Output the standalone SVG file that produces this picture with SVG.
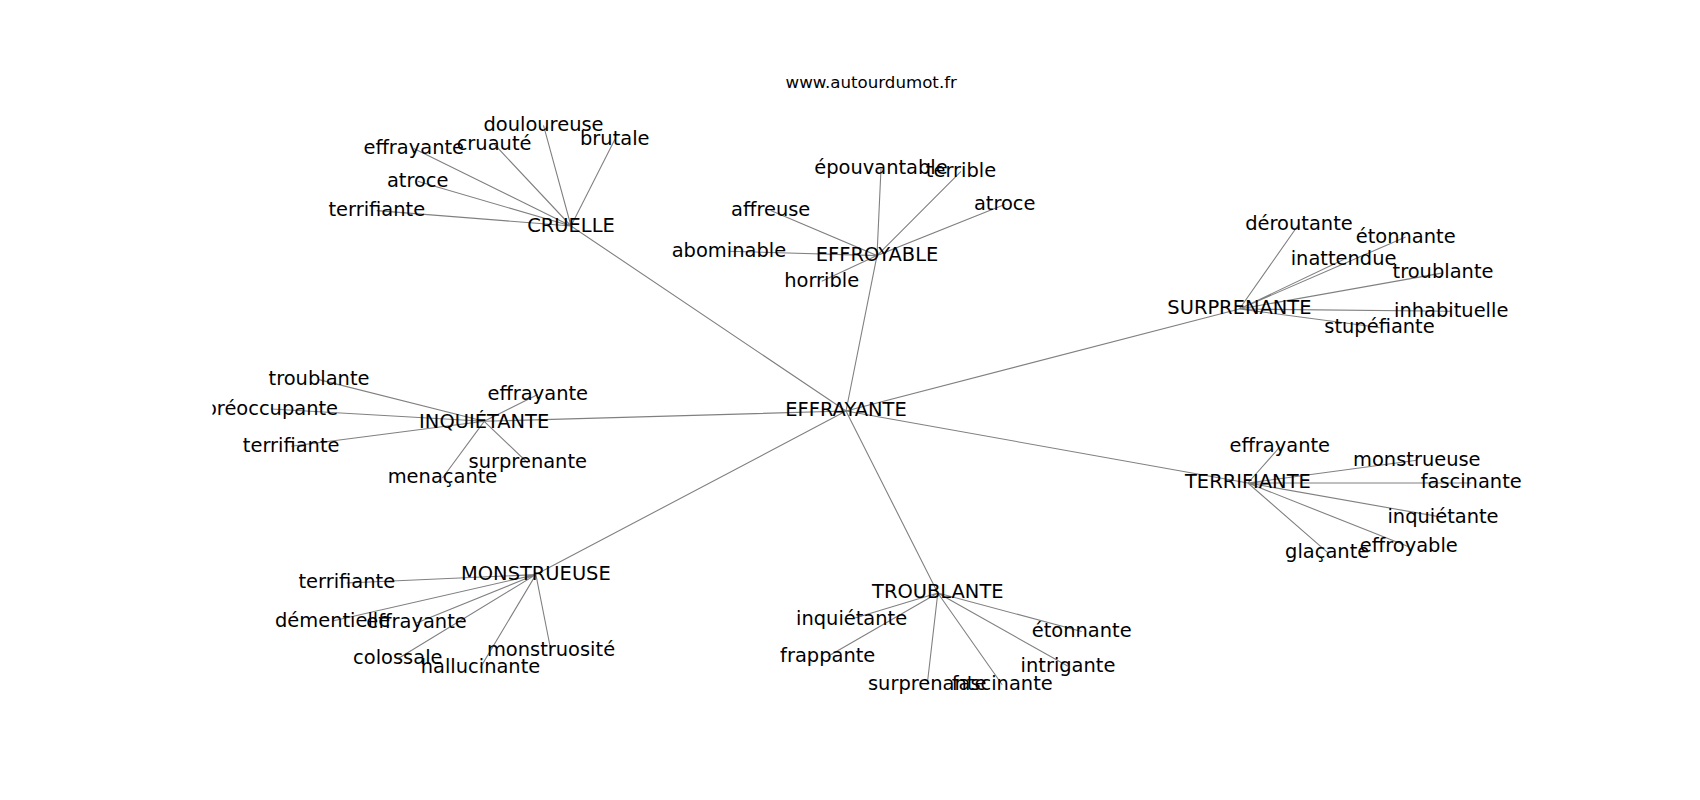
<svg xmlns="http://www.w3.org/2000/svg" width="1700" height="800" viewBox="0 0 1700 800">
<style>
.e{stroke:#808080;stroke-width:1.1;fill:none}
.l{font-family:"DejaVu Sans","Liberation Sans",sans-serif;font-size:19.44px;fill:#000;text-anchor:middle}
.t{font-family:"DejaVu Sans","Liberation Sans",sans-serif;font-size:16.67px;fill:#000;text-anchor:middle}
</style>
<defs><clipPath id="ax"><rect x="212.5" y="96" width="1317.5" height="616"/></clipPath></defs>
<rect x="0" y="0" width="1700" height="800" fill="#fff"/>
<text class="t" x="871.25" y="88">www.autourdumot.fr</text>
<g id="edges" clip-path="url(#ax)">
<path class="e" d="M846,411L571,226M846,411L877,255.6M846,411L1239.4,309M846,411L484.2,421.3M846,411L1247.9,483M846,411L535.9,574.6M846,411L937.8,593"/>
<path class="e" d="M571,226L543.5,125.3M571,226L614.8,139.6M571,226L494.1,144M571,226L413.8,148.6M571,226L417.7,181.3M571,226L376.8,210.6"/>
<path class="e" d="M877,255.6L881,168.5M877,255.6L961,171.3M877,255.6L1004.7,204.6M877,255.6L770.7,210.6M877,255.6L728.9,251.3M877,255.6L821.7,281.3"/>
<path class="e" d="M1239.4,309L1299,224M1239.4,309L1405.7,236.9M1239.4,309L1343.6,259.6M1239.4,309L1443,272.9M1239.4,309L1451.2,311.3M1239.4,309L1379.5,327.5"/>
<path class="e" d="M484.2,421.3L319,379.6M484.2,421.3L271.3,409M484.2,421.3L537.8,394.6M484.2,421.3L291.2,446.3M484.2,421.3L527.8,463M484.2,421.3L442.5,478"/>
<path class="e" d="M1247.9,483L1279.8,447M1247.9,483L1416.8,460.3M1247.9,483L1471.2,483M1247.9,483L1443,517.4M1247.9,483L1408.8,546.8M1247.9,483L1327.2,552.2"/>
<path class="e" d="M535.9,574.6L346.8,583M535.9,574.6L332.6,621M535.9,574.6L416.5,623M535.9,574.6L397.8,658.7M535.9,574.6L480.5,667.4M535.9,574.6L551,651"/>
<path class="e" d="M937.8,593L851.6,619M937.8,593L827.7,656.5M937.8,593L927.2,684.8M937.8,593L1002.2,684.8M937.8,593L1068,666.3M937.8,593L1081.7,631.5"/>
</g>
<g clip-path="url(#ax)">
<g id="n-effrayante"><text class="l" x="846" y="416.4">EFFRAYANTE</text></g>
<g id="n-cruelle"><text class="l" x="571" y="231.5">CRUELLE</text></g>
<g id="n-cruelle-douloureuse"><text class="l" x="543.5" y="130.7">douloureuse</text></g>
<g id="n-cruelle-brutale"><text class="l" x="614.8" y="145">brutale</text></g>
<g id="n-cruelle-cruaute"><text class="l" x="494.1" y="150">cruauté</text></g>
<g id="n-cruelle-effrayante"><text class="l" x="413.8" y="154">effrayante</text></g>
<g id="n-cruelle-atroce"><text class="l" x="417.7" y="186.7">atroce</text></g>
<g id="n-cruelle-terrifiante"><text class="l" x="376.8" y="216">terrifiante</text></g>
<g id="n-effroyable"><text class="l" x="877" y="261">EFFROYABLE</text></g>
<g id="n-effroyable-epouvantable"><text class="l" x="881" y="174.3">épouvantable</text></g>
<g id="n-effroyable-terrible"><text class="l" x="961" y="176.7">terrible</text></g>
<g id="n-effroyable-atroce"><text class="l" x="1004.7" y="210">atroce</text></g>
<g id="n-effroyable-affreuse"><text class="l" x="770.7" y="216">affreuse</text></g>
<g id="n-effroyable-abominable"><text class="l" x="728.9" y="256.7">abominable</text></g>
<g id="n-effroyable-horrible"><text class="l" x="821.7" y="286.7">horrible</text></g>
<g id="n-surprenante"><text class="l" x="1239.4" y="314.3">SURPRENANTE</text></g>
<g id="n-surprenante-deroutante"><text class="l" x="1299" y="230">déroutante</text></g>
<g id="n-surprenante-etonnante"><text class="l" x="1405.7" y="242.7">étonnante</text></g>
<g id="n-surprenante-inattendue"><text class="l" x="1343.6" y="265">inattendue</text></g>
<g id="n-surprenante-troublante"><text class="l" x="1443" y="278.3">troublante</text></g>
<g id="n-surprenante-inhabituelle"><text class="l" x="1451.2" y="316.7">inhabituelle</text></g>
<g id="n-surprenante-stupefiante"><text class="l" x="1379.5" y="333.3">stupéfiante</text></g>
<g id="n-inquietante"><text class="l" x="484.2" y="428.3">INQUIÉTANTE</text></g>
<g id="n-inquietante-troublante"><text class="l" x="319" y="385">troublante</text></g>
<g id="n-inquietante-preoccupante"><text class="l" x="271.3" y="415">préoccupante</text></g>
<g id="n-inquietante-effrayante"><text class="l" x="537.8" y="400">effrayante</text></g>
<g id="n-inquietante-terrifiante"><text class="l" x="291.2" y="451.7">terrifiante</text></g>
<g id="n-inquietante-surprenante"><text class="l" x="527.8" y="468.3">surprenante</text></g>
<g id="n-inquietante-menacante"><text class="l" x="442.5" y="483.3">menaçante</text></g>
<g id="n-terrifiante"><text class="l" x="1247.9" y="488.3">TERRIFIANTE</text></g>
<g id="n-terrifiante-effrayante"><text class="l" x="1279.8" y="452.3">effrayante</text></g>
<g id="n-terrifiante-monstrueuse"><text class="l" x="1416.8" y="465.7">monstrueuse</text></g>
<g id="n-terrifiante-fascinante"><text class="l" x="1471.2" y="488.3">fascinante</text></g>
<g id="n-terrifiante-inquietante"><text class="l" x="1443" y="522.8">inquiétante</text></g>
<g id="n-terrifiante-effroyable"><text class="l" x="1408.8" y="552.2">effroyable</text></g>
<g id="n-terrifiante-glacante"><text class="l" x="1327.2" y="557.6">glaçante</text></g>
<g id="n-monstrueuse"><text class="l" x="535.9" y="580">MONSTRUEUSE</text></g>
<g id="n-monstrueuse-terrifiante"><text class="l" x="346.8" y="588.3">terrifiante</text></g>
<g id="n-monstrueuse-dementielle"><text class="l" x="332.6" y="626.7">démentielle</text></g>
<g id="n-monstrueuse-effrayante"><text class="l" x="416.5" y="628.3">effrayante</text></g>
<g id="n-monstrueuse-colossale"><text class="l" x="397.8" y="664">colossale</text></g>
<g id="n-monstrueuse-hallucinante"><text class="l" x="480.5" y="672.8">hallucinante</text></g>
<g id="n-monstrueuse-monstruosite"><text class="l" x="551" y="656.4">monstruosité</text></g>
<g id="n-troublante"><text class="l" x="937.8" y="598.3">TROUBLANTE</text></g>
<g id="n-troublante-inquietante"><text class="l" x="851.6" y="625">inquiétante</text></g>
<g id="n-troublante-frappante"><text class="l" x="827.7" y="661.9">frappante</text></g>
<g id="n-troublante-surprenante"><text class="l" x="927.2" y="690.2">surprenante</text></g>
<g id="n-troublante-fascinante"><text class="l" x="1002.2" y="690.2">fascinante</text></g>
<g id="n-troublante-intrigante"><text class="l" x="1068" y="671.7">intrigante</text></g>
<g id="n-troublante-etonnante"><text class="l" x="1081.7" y="636.9">étonnante</text></g>
</g>
</svg>
